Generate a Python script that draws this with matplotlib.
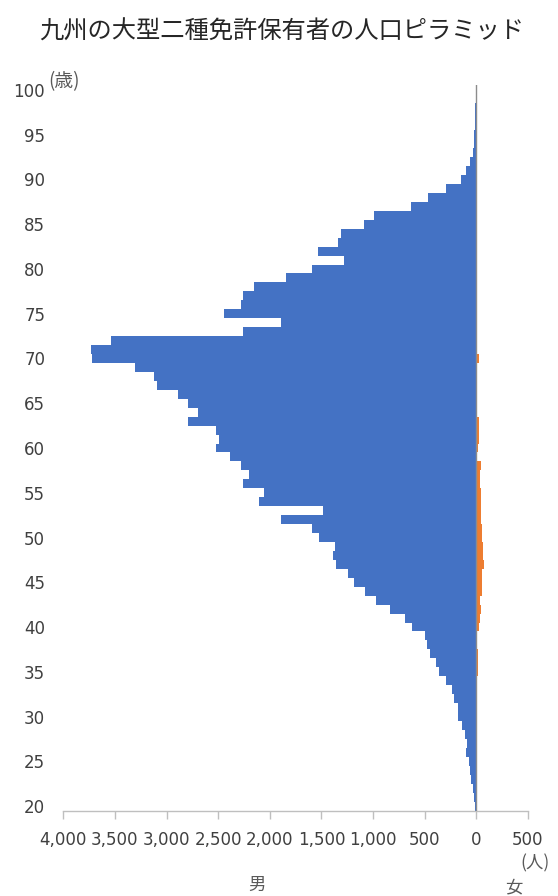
import matplotlib
matplotlib.use("Agg")
import matplotlib.pyplot as plt
import numpy as np
from matplotlib.ticker import FuncFormatter

# 年齢 20〜100歳
ages = np.arange(20, 101)

# 男性の人数 (20歳から順に)
male = [
    10, 19, 35, 48, 58, 68, 97, 94, 106, 142,          # 20-29
    180, 181, 213, 232, 293, 361, 390, 445, 474, 500,  # 30-39
    619, 687, 839, 968, 1077, 1187, 1245, 1355, 1384, 1364,  # 40-49
    1522, 1593, 1890, 1487, 2106, 2061, 2258, 2199, 2277, 2387,  # 50-59
    2525, 2496, 2522, 2793, 2693, 2793, 2890, 3090, 3119, 3309,  # 60-69
    3725, 3735, 3538, 2264, 1890, 2445, 2283, 2264, 2154, 1848,  # 70-79
    1590, 1277, 1529, 1342, 1310, 1084, 993, 635, 468, 290,      # 80-89
    148, 100, 61, 32, 22, 18, 15, 12, 10, 5,                     # 90-99
    3,                                                           # 100
]

# 女性の人数 (20歳から順に)
female = [
    0, 0, 0, 0, 0, 0, 0, 0, 0, 0,            # 20-29
    0, 0, 0, 0, 0, 12, 12, 12, 3, 3,         # 30-39
    25, 35, 45, 35, 55, 55, 58, 72, 64, 62,  # 40-49
    58, 52, 45, 45, 45, 45, 35, 38, 42, 8,   # 50-59
    20, 22, 22, 22, 8, 8, 8, 8, 8, 8,        # 60-69
    24, 2, 2, 2, 2, 2, 2, 2, 2, 2,           # 70-79
    1, 1, 1, 1, 1, 1, 1, 1, 1, 1,            # 80-89
    0, 0, 0, 0, 0, 0, 0, 0, 0, 0,            # 90-99
    0,                                       # 100
]

xticks = [-4000, -3500, -3000, -2500, -2000, -1500, -1000, -500, 0, 500]
yticks = list(range(20, 101, 5))

jp = "Noto Sans CJK JP"
text_color = "#404040"
axis_gray = "#BFBFBF"

fig = plt.figure(figsize=(5.58, 8.96), dpi=100)
ax = fig.add_axes([0.1134, 0.0954, 0.8328, 0.8092])

ax.barh(ages, -np.array(male), height=1.0, color="#4472C4", linewidth=0)
ax.barh(ages, female, height=1.0, color="#ED7D31", linewidth=0)
ax.axvline(0, color="#8C8C8C", lw=1.0, zorder=3)

ax.set_xlim(-4000, 500)
ax.set_ylim(19.5, 100.5)

ax.set_xticks(xticks)
ax.xaxis.set_major_formatter(FuncFormatter(lambda v, p: f"{abs(int(v)):,}"))
ax.set_yticks(yticks)

for s in ["top", "right", "left"]:
    ax.spines[s].set_visible(False)
ax.spines["bottom"].set_color(axis_gray)
ax.spines["bottom"].set_linewidth(1.0)

ax.tick_params(axis="x", direction="out", length=6, width=1.0, color=axis_gray,
               labelsize=12, labelcolor=text_color, pad=9)
ax.tick_params(axis="y", length=0, labelsize=12, labelcolor=text_color, pad=13)
for lab in ax.get_xticklabels() + ax.get_yticklabels():
    lab.set_family("DejaVu Sans")

fig.text(0.505, 1 - 32 / 896, "九州の大型二種免許保有者の人口ピラミッド",
         ha="center", va="center", fontsize=17.5, family=jp, color="#262626")
fig.text(64 / 558, 1 - 82 / 896, "(歳)", ha="center", va="center",
         fontsize=13.5, family=jp, color="#595959")
fig.text(535 / 558, 1 - 863 / 896, "(人)", ha="center", va="center",
         fontsize=12.5, family=jp, color="#595959")
fig.text(257 / 558, 1 - 885 / 896, "男", ha="center", va="center",
         fontsize=12.5, family=jp, color="#595959")
fig.text(514 / 558, 1 - 887 / 896, "女", ha="center", va="center",
         fontsize=12.5, family=jp, color="#595959")

fig.savefig("out.png", dpi=100)
